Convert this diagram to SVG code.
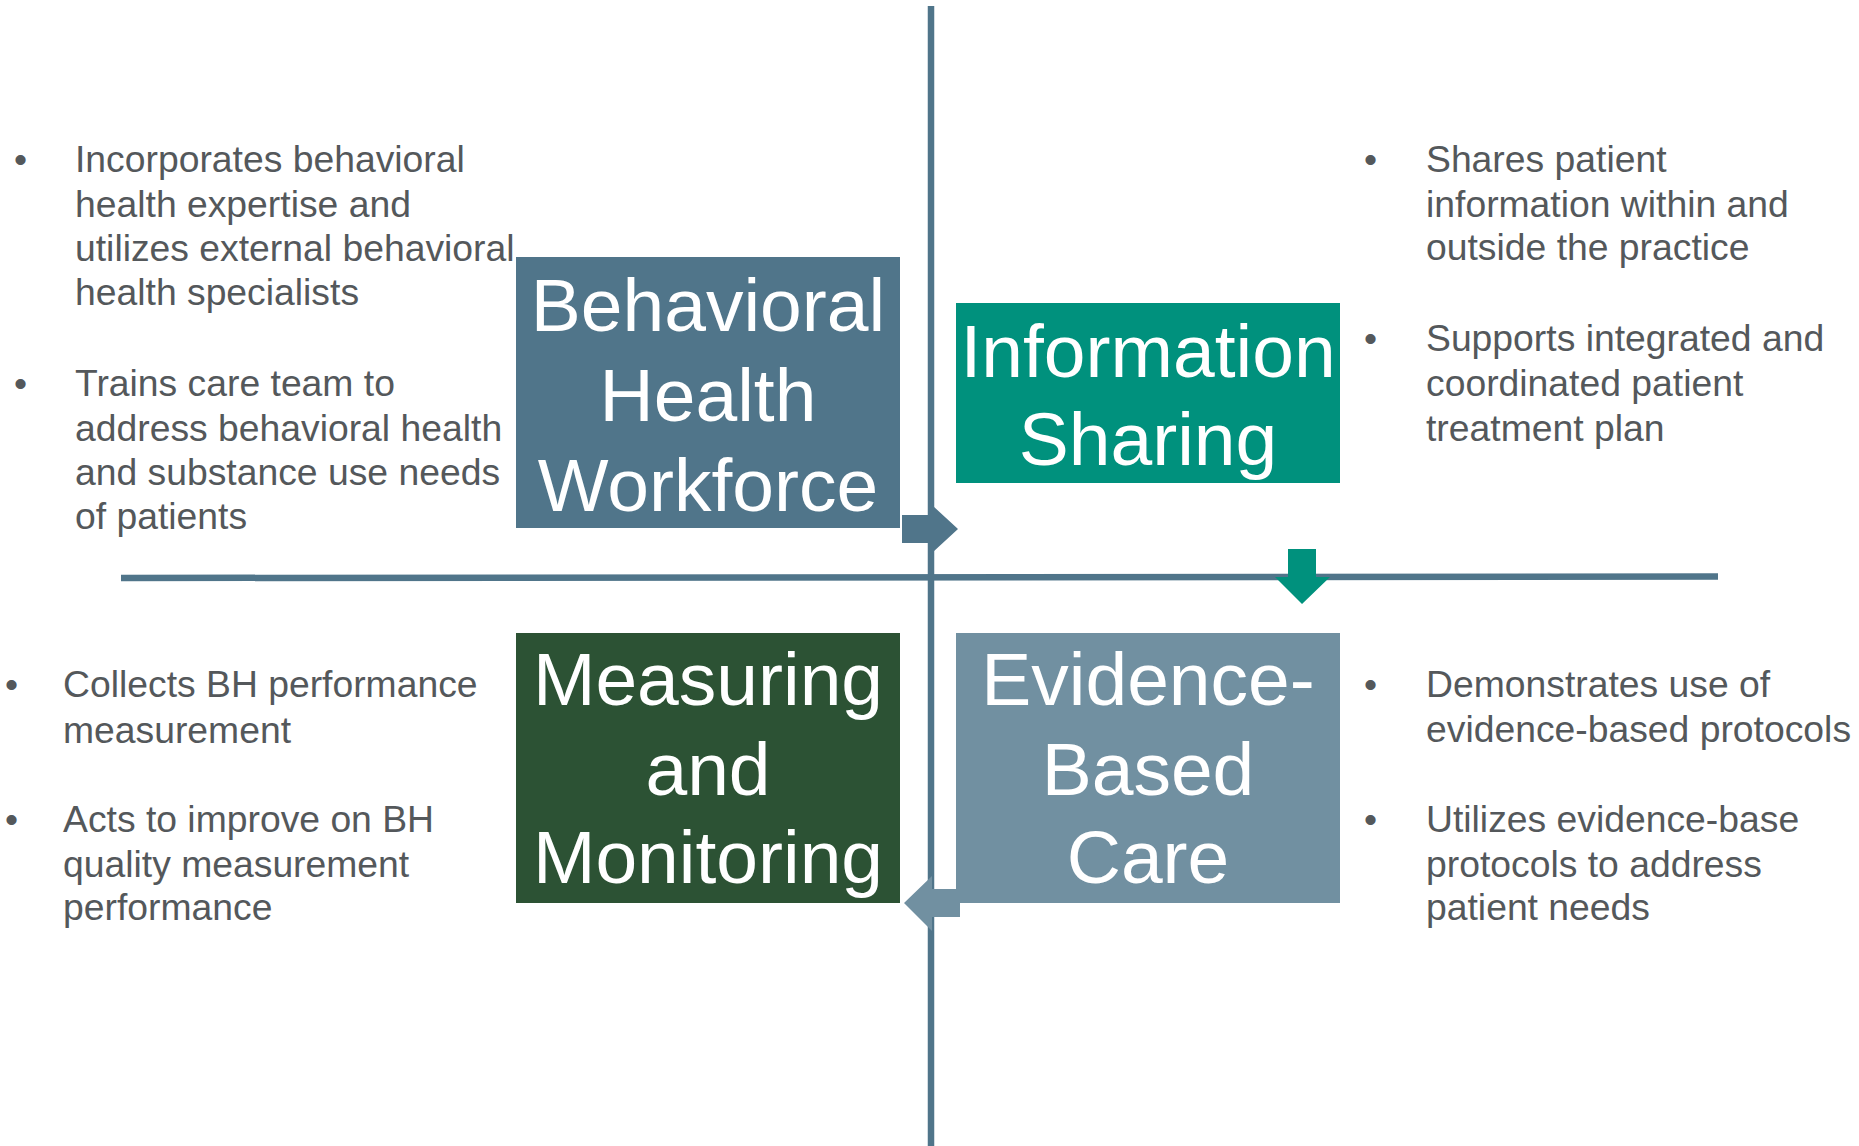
<svg xmlns="http://www.w3.org/2000/svg" width="1859" height="1146" viewBox="0 0 1859 1146">
<style>
.bul{font-family:"Liberation Sans",Arial,sans-serif;font-size:37.3px;fill:#54585B}
.box{font-family:"Liberation Sans",Arial,sans-serif;font-size:75px;fill:#ffffff;text-anchor:middle}
.axis{stroke:#50758A;stroke-width:6.5;fill:none}
</style>
<rect width="1859" height="1146" fill="#ffffff"/>
<g id="connectors">
<line class="axis" x1="931" y1="6" x2="931" y2="1146"/>
<line class="axis" x1="121" y1="578" x2="1718" y2="576.5"/>
<polygon fill="#50758A" points="902,515 933,515 933,506 958,529 933,552 933,543 902,543"/>
<polygon fill="#00917D" points="1288,549 1316,549 1316,577 1330,577 1302,604 1275,577 1288,577"/>
<polygon fill="#7190A1" points="960,889 932,889 932,876 904,903 932,931 932,917 960,917"/>
</g>
<g id="node-bhw">
<rect x="516" y="257" width="384" height="271" fill="#50758A"/>
<text class="box" x="708" y="331">Behavioral</text>
<text class="box" x="708" y="421">Health</text>
<text class="box" x="708" y="511">Workforce</text>
</g>
<g id="node-info">
<rect x="956" y="303" width="384" height="180" fill="#00917D"/>
<text class="box" x="1148" y="377">Information</text>
<text class="box" x="1148" y="465">Sharing</text>
</g>
<g id="node-measuring">
<rect x="516" y="633" width="384" height="270" fill="#2C5234"/>
<text class="box" x="708" y="705">Measuring</text>
<text class="box" x="708" y="795">and</text>
<text class="box" x="708" y="883">Monitoring</text>
</g>
<g id="node-evidence">
<rect x="956" y="633" width="384" height="270" fill="#7190A1"/>
<text class="box" x="1148" y="705">Evidence-</text>
<text class="box" x="1148" y="795">Based</text>
<text class="box" x="1148" y="883">Care</text>
</g>
<g id="text-bhw">
<text class="bul" x="14" y="172">•</text>
<text class="bul" x="75" y="172">Incorporates behavioral</text>
<text class="bul" x="75" y="216.5">health expertise and</text>
<text class="bul" x="75" y="260.5">utilizes external behavioral</text>
<text class="bul" x="75" y="304.5">health specialists</text>
<text class="bul" x="14" y="396">•</text>
<text class="bul" x="75" y="396">Trains care team to</text>
<text class="bul" x="75" y="440.5">address behavioral health</text>
<text class="bul" x="75" y="484.5">and substance use needs</text>
<text class="bul" x="75" y="528.5">of patients</text>
</g>
<g id="text-info">
<text class="bul" x="1364" y="172">•</text>
<text class="bul" x="1426" y="172">Shares patient</text>
<text class="bul" x="1426" y="217">information within and</text>
<text class="bul" x="1426" y="260">outside the practice</text>
<text class="bul" x="1364" y="351">•</text>
<text class="bul" x="1426" y="351">Supports integrated and</text>
<text class="bul" x="1426" y="396">coordinated patient</text>
<text class="bul" x="1426" y="440.5">treatment plan</text>
</g>
<g id="text-measuring">
<text class="bul" x="5" y="697">•</text>
<text class="bul" x="63" y="697">Collects BH performance</text>
<text class="bul" x="63" y="742.5">measurement</text>
<text class="bul" x="5" y="831.5">•</text>
<text class="bul" x="63" y="831.5">Acts to improve on BH</text>
<text class="bul" x="63" y="876.5">quality measurement</text>
<text class="bul" x="63" y="919.5">performance</text>
</g>
<g id="text-evidence">
<text class="bul" x="1364" y="697">•</text>
<text class="bul" x="1426" y="697">Demonstrates use of</text>
<text class="bul" x="1426" y="742">evidence-based protocols</text>
<text class="bul" x="1364" y="831.5">•</text>
<text class="bul" x="1426" y="831.5">Utilizes evidence-base</text>
<text class="bul" x="1426" y="876.5">protocols to address</text>
<text class="bul" x="1426" y="919.5">patient needs</text>
</g>
</svg>
